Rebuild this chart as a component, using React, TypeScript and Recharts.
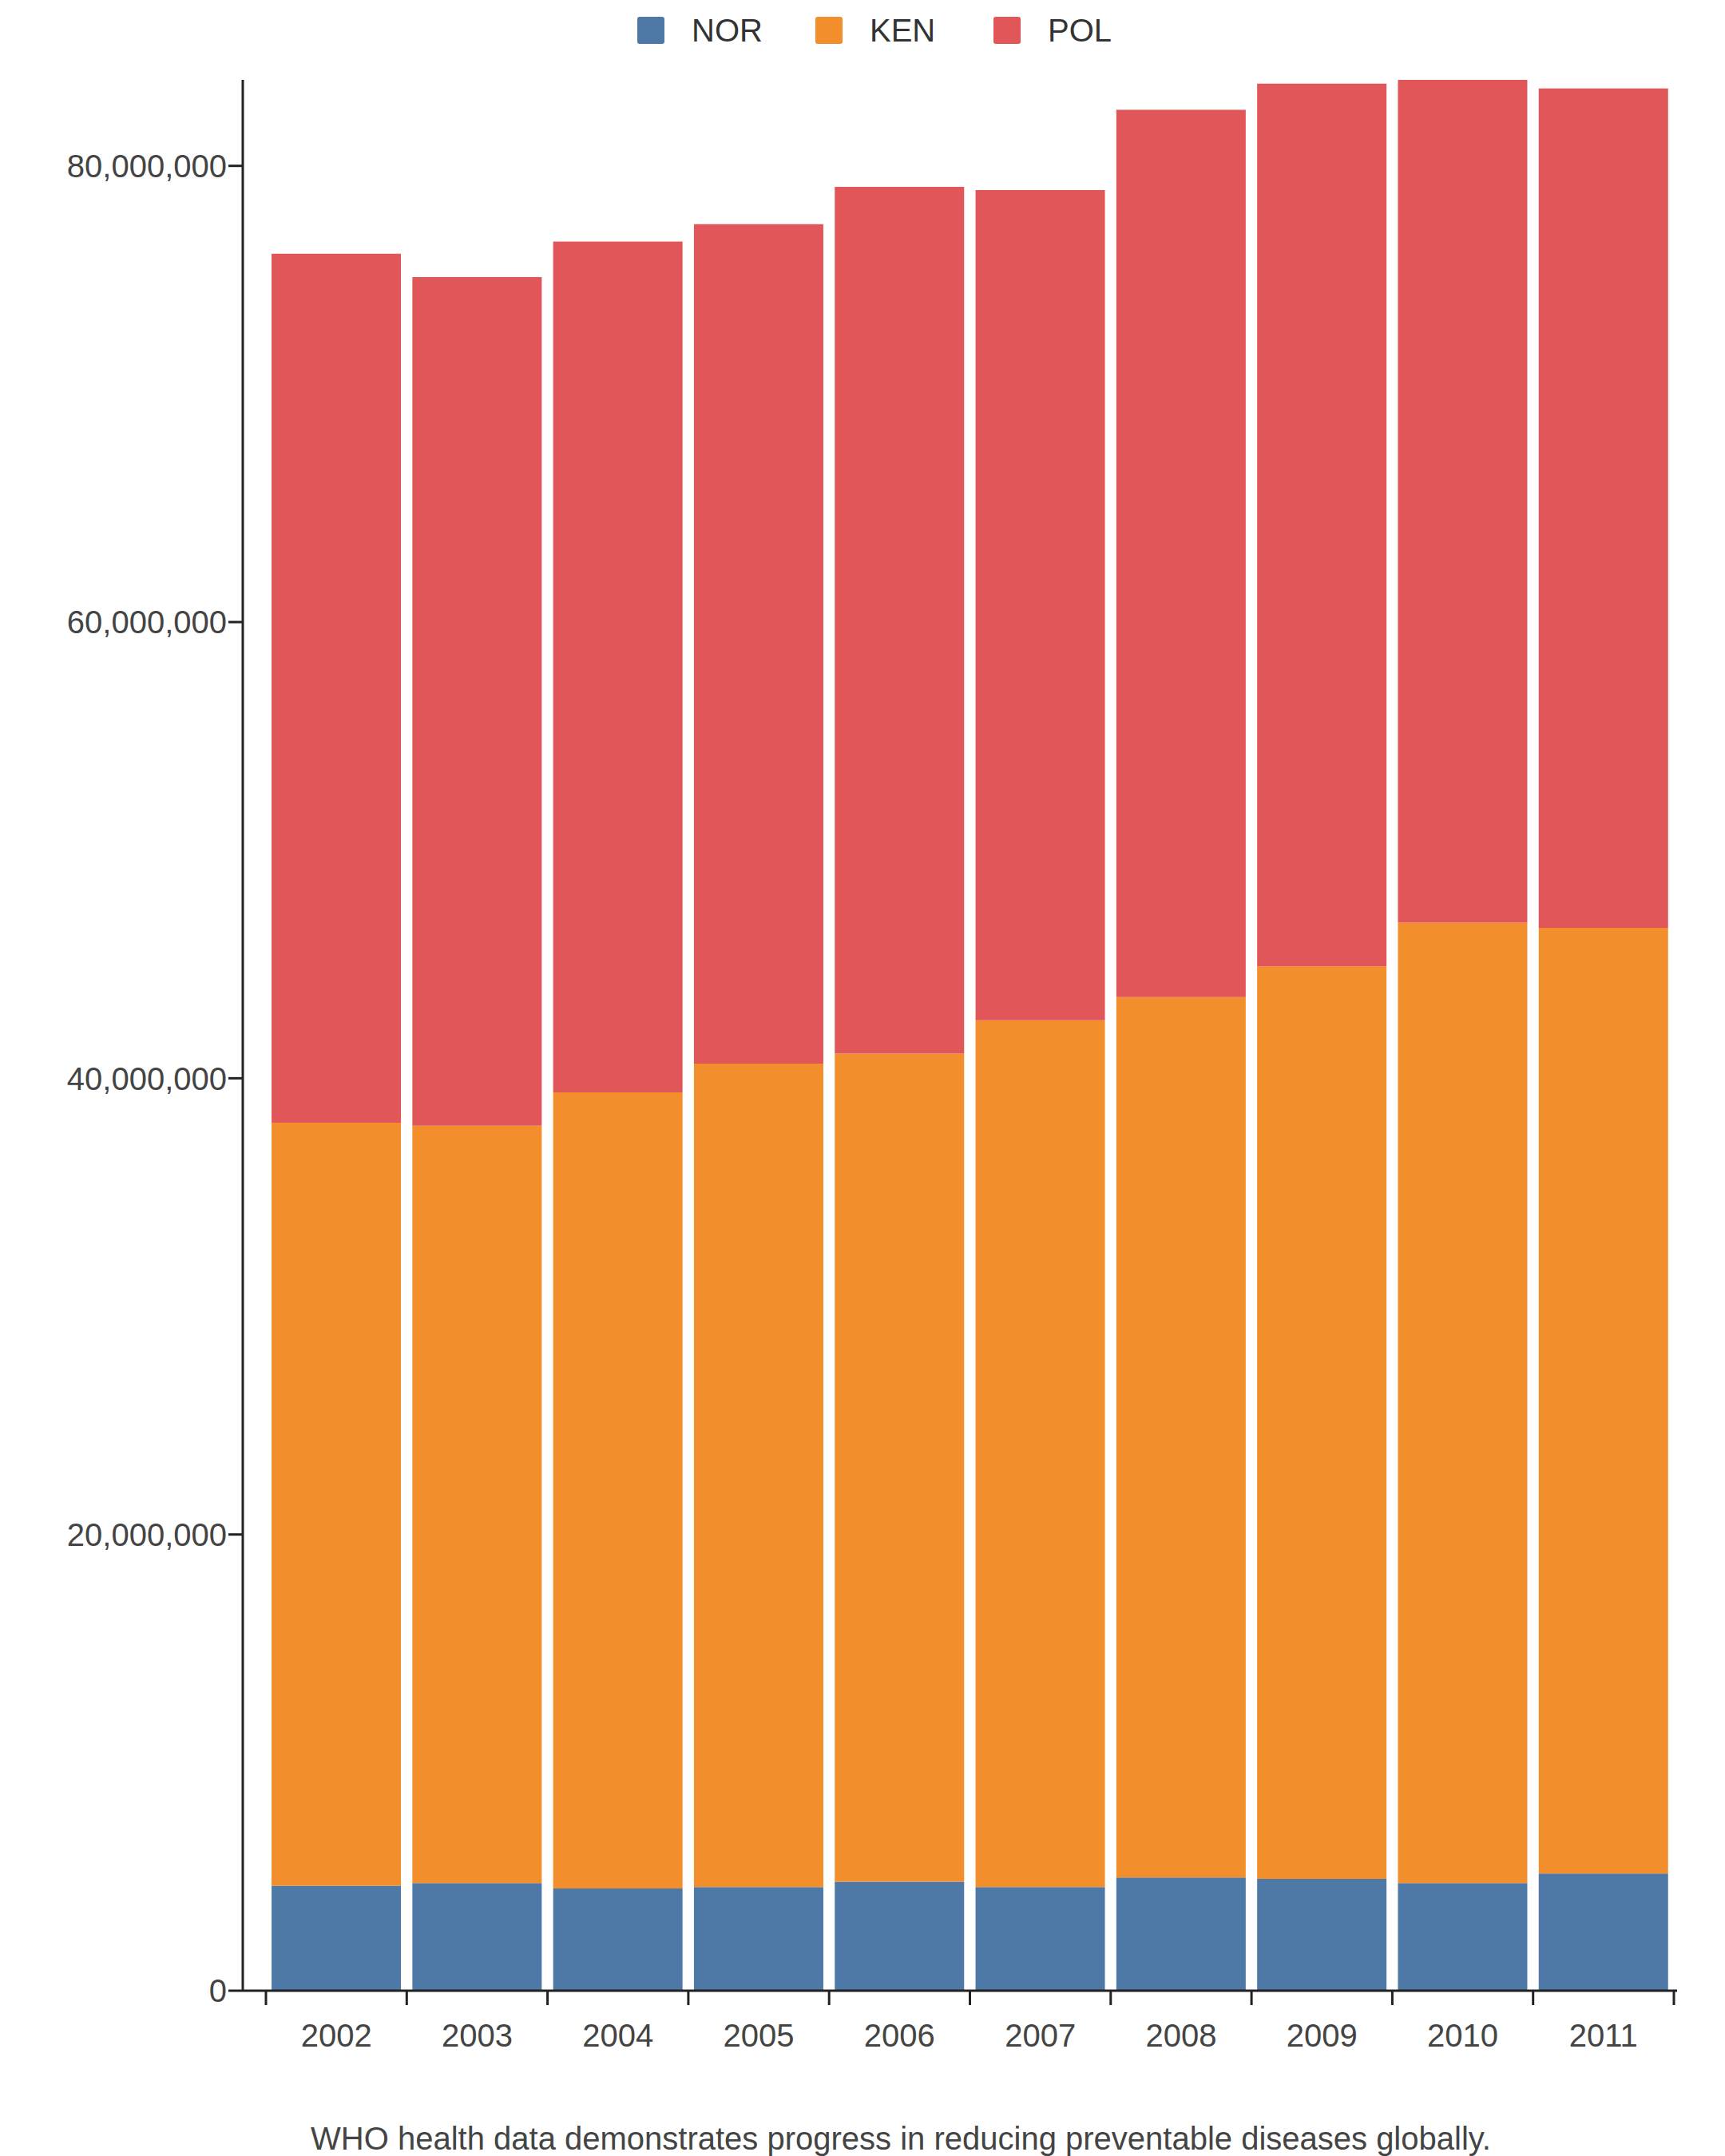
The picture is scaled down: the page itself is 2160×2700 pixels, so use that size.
import React from "react";
import { BarChart, Bar, XAxis, YAxis } from "recharts";

const years = ["2002","2003","2004","2005","2006","2007","2008","2009","2010","2011"];
const nor = [4.6,4.72,4.48,4.54,4.78,4.54,4.96,4.9,4.72,5.14];
const ken = [33.45,33.2,34.9,36.1,36.3,38.0,38.6,40.0,42.1,41.45];
const pol = [38.1,37.2,37.3,36.8,38.0,36.4,38.9,38.7,36.95,36.8];
const yTicks = [0,20000000,40000000,60000000,80000000];
const seriesNames = ["NOR","KEN","POL"];
const colors = ["#4e79a7","#f28e2b","#e15759"];

const data = years.map((y,i)=>({year:y, NOR:nor[i]*1e6, KEN:ken[i]*1e6, POL:pol[i]*1e6}));
const BAND = 176.3;

const XTick = (props:any) => {
  const {x,y,payload} = props;
  return (
    <g>
      <line x1={x-BAND/2} x2={x-BAND/2} y1={y-8} y2={y+10} stroke="#222" strokeWidth={3}/>
      {payload.index===years.length-1 && <line x1={x+BAND/2} x2={x+BAND/2} y1={y-8} y2={y+10} stroke="#222" strokeWidth={3}/>}
      <text x={x} y={y+62} textAnchor="middle" fontSize={40} fill="#444" fontFamily="Liberation Sans, Arial, sans-serif">{payload.value}</text>
    </g>
  );
};

export default function App(){
  return (
    <div style={{position:"relative",width:2152,height:2692,fontFamily:"Liberation Sans, Arial, sans-serif"}}>
      <div style={{position:"absolute",top:0,left:0,width:2152,height:70}}>
        {seriesNames.map((n,i)=>(
          <React.Fragment key={n}>
            <div style={{position:"absolute",left:790+i*223,top:13,width:34,height:34,background:colors[i],borderRadius:3}}/>
            <div style={{position:"absolute",left:858+i*223,top:6,fontSize:40,color:"#333",lineHeight:"48px"}}>{n}</div>
          </React.Fragment>
        ))}
      </div>
      <BarChart width={2152} height={2692} data={data} margin={{top:92,right:60,left:96,bottom:177}} barCategoryGap="4%">
        <XAxis dataKey="year" tick={<XTick/>} tickLine={false} axisLine={{stroke:"#222",strokeWidth:3}} padding={{left:29,right:4}} interval={0}/>
        <YAxis width={200} ticks={yTicks} domain={[0,"dataMax"]} tickSize={18}
          tickFormatter={(v:number)=>v.toLocaleString("en-US")}
          tick={{fontSize:40,fill:"#444"}} axisLine={{stroke:"#222",strokeWidth:3}} tickLine={{stroke:"#222",strokeWidth:3}}/>
        {seriesNames.map((n,i)=>(
          <Bar key={n} dataKey={n} stackId="a" fill={colors[i]} isAnimationActive={false}/>
        ))}
      </BarChart>
      <div style={{position:"absolute",left:0,width:2240,top:2648,textAlign:"center",fontSize:40,color:"#444"}}>
        WHO health data demonstrates progress in reducing preventable diseases globally.
      </div>
    </div>
  );
}
